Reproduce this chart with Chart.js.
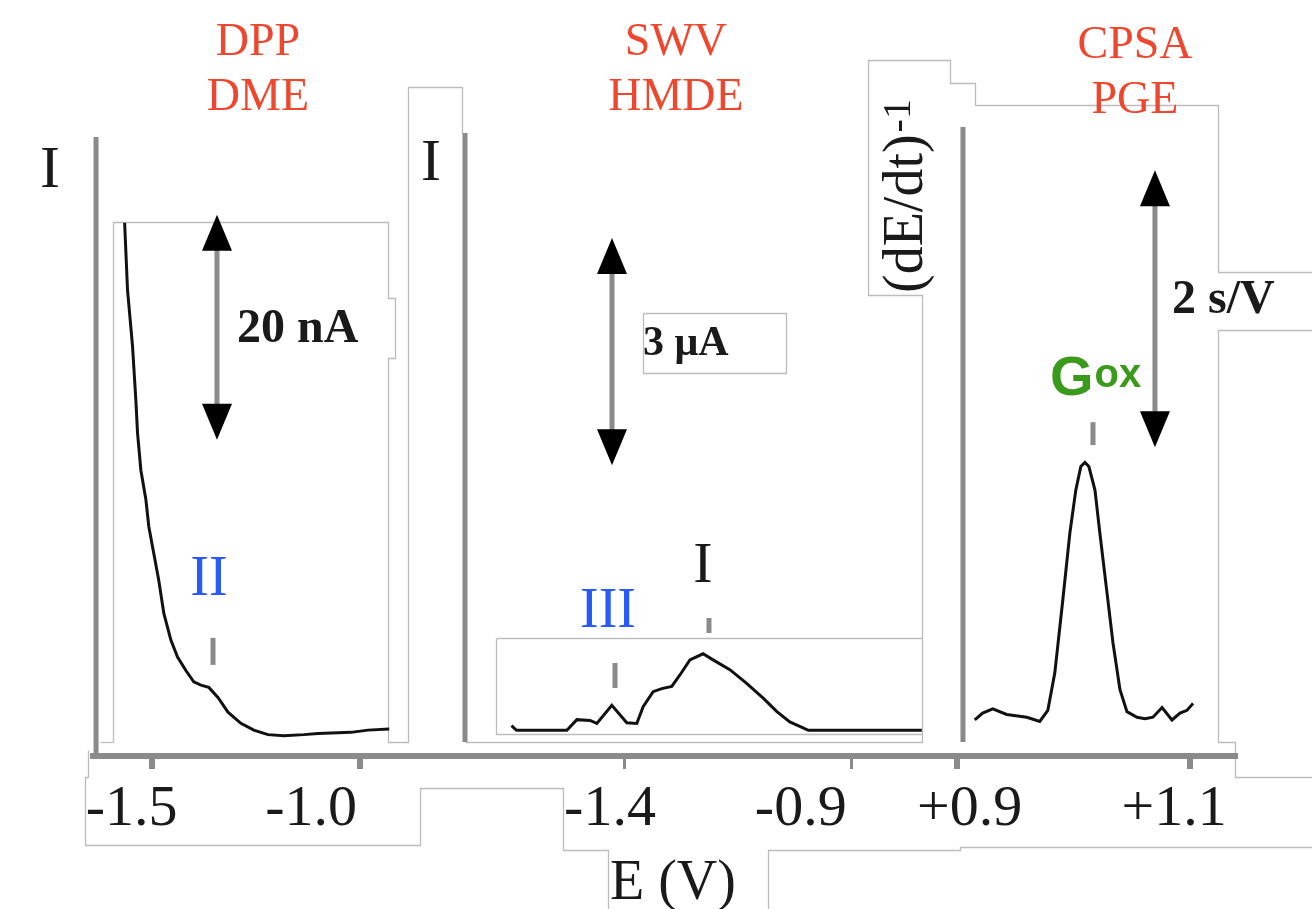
<!DOCTYPE html>
<html>
<head>
<meta charset="utf-8">
<title>DPP / SWV / CPSA</title>
<script src="https://cdn.jsdelivr.net/npm/chart.js@4.4.1/dist/chart.umd.min.js"></script>
<style>
  body { margin: 0; background: #fff; }
  #wrap { position: relative; width: 1312px; height: 909px; overflow: hidden; background: #fff; }
  #wrap canvas { position: absolute; top: 0; }
</style>
</head>
<body>
<div id="wrap">
  <canvas id="dpp" width="463" height="909" style="left:0px"></canvas>
  <canvas id="swv" width="552" height="909" style="left:400px"></canvas>
  <canvas id="cpsa" width="452" height="909" style="left:860px"></canvas>
</div>
<script>
// --- data ---
// DPP at the dropping mercury electrode (E in V, I in nA)
const dppE = [-1.565, -1.558, -1.546, -1.538, -1.534, -1.526, -1.514, -1.507, -1.495, -1.483, -1.471, -1.454, -1.438, -1.418,
  -1.399, -1.382, -1.363, -1.341, -1.317, -1.286, -1.255, -1.221, -1.183, -1.135, -1.101, -1.022, -0.981, -0.930];
const dppI = [47.4, 41.4, 36.4, 31.6, 28.7, 25.4, 22.8, 20.4, 18.0, 15.6, 12.7, 10.3, 8.8, 7.6,
  6.6, 6.3, 6.1, 5.2, 3.9, 2.9, 2.3, 1.9, 1.8, 1.9, 2.0, 2.1, 2.3, 2.4];
// SWV at the hanging mercury drop electrode (E in V, I in uA)
const swvE = [-1.650, -1.639, -1.528, -1.506, -1.477, -1.462, -1.429, -1.396, -1.374, -1.360, -1.338, -1.319, -1.297,
  -1.279, -1.257, -1.228, -1.206, -1.169, -1.132, -1.095, -1.066, -1.037, -1.015, -0.996, -0.746];
const swvI = [0.40, 0.34, 0.34, 0.48, 0.47, 0.43, 0.67, 0.44, 0.43, 0.65, 0.85, 0.89, 0.92,
  1.07, 1.27, 1.35, 1.27, 1.14, 0.96, 0.76, 0.59, 0.45, 0.39, 0.34, 0.34];
// CPSA at the pyrolytic graphite electrode (E in V, (dE/dt)^-1 in s/V)
const cpsaE = [0.9155, 0.9223, 0.9309, 0.9429, 0.9601, 0.9712, 0.9781, 0.9841, 0.9910, 0.9970, 1.0021, 1.0064, 1.0099, 1.0133,
  1.0185, 1.0227, 1.0288, 1.0339, 1.0399, 1.0459, 1.0545, 1.0614, 1.0682, 1.0760, 1.0845, 1.0914, 1.0974, 1.1026];
const cpsaR = [0.26, 0.31, 0.34, 0.30, 0.28, 0.25, 0.33, 0.60, 1.13, 1.61, 1.92, 2.09, 2.12, 2.09,
  1.92, 1.61, 1.18, 0.82, 0.48, 0.32, 0.28, 0.27, 0.28, 0.35, 0.26, 0.31, 0.33, 0.38];

// tick values and their labels
const dppTicks = [-1.5, -1.0];
const dppLabels = ['-1.5', '-1.0'];
const swvTicks = [-1.4, -0.9];
const swvLabels = ['-1.4', '-0.9'];
const cpsaTicks = [0.9, 1.1];
const cpsaLabels = ['+0.9', '+1.1'];

// scale bars (start, end) in each panel's own unit
const dppBar = [28.1, 48.1];   // 20 nA
const swvBar = [3.84, 6.84];   // 3 uA
const cpsaBar = [2.23, 4.23];  // 2 s/V

const dppTitle = ['DPP', 'DME'];
const swvTitle = ['SWV', 'HMDE'];
const cpsaTitle = ['CPSA', 'PGE'];

// --- drawing helpers ---
const RED = '#ee472d', BLUE = '#2a5af5', GREEN = '#3b9a1c', INK = '#1a1a1a', GRAY = '#8a8a8a', FRAME = '#bcbcbc';
const SERIF = '"Liberation Serif", "Times New Roman", serif';
const SANS = '"Liberation Sans", Arial, sans-serif';

// faint outlines of the pasted text boxes in the original figure (page pixels)
const frameLines = [
  [[113, 742], [113, 222], [388, 222], [388, 298], [395, 298], [395, 358], [388, 358], [388, 742], [408, 742], [408, 87], [462, 87], [462, 133]],
  [[100, 742], [113, 742]],
  [[88, 750], [88, 777], [85, 777], [85, 845], [420, 845], [420, 788], [563, 788], [563, 850], [608, 850], [608, 909]],
  [[768, 909], [768, 850], [960, 850], [960, 847], [1312, 847]],
  [[496, 638], [922, 638], [922, 734], [496, 734], [496, 638]],
  [[465, 742], [922, 742], [922, 734]],
  [[922, 638], [922, 295], [868, 295], [868, 60], [950, 60], [950, 83], [975, 83], [975, 105], [1218, 105], [1218, 272], [1312, 272]],
  [[1312, 330], [1218, 330], [1218, 742], [1235, 742], [1235, 777], [1312, 777]],
  [[643, 313], [786, 313], [786, 373], [643, 373], [643, 313]]
];

function txt(ctx, s, x, y, font, color, align) {
  ctx.font = font;
  ctx.fillStyle = color;
  ctx.textAlign = align || 'center';
  ctx.textBaseline = 'alphabetic';
  ctx.fillText(s, x, y);
}

function vline(ctx, x, y1, y2, w, color) {
  ctx.strokeStyle = color;
  ctx.lineWidth = w;
  ctx.lineCap = 'butt';
  ctx.beginPath();
  ctx.moveTo(x, y1);
  ctx.lineTo(x, y2);
  ctx.stroke();
}

// double headed scale-bar arrow, yLow / yHigh are the tip pixels
function arrow(ctx, x, yLow, yHigh) {
  const h = 36, hw = 15;
  vline(ctx, x, yLow - h + 2, yHigh + h - 2, 5, GRAY);
  ctx.fillStyle = '#000';
  ctx.beginPath();
  ctx.moveTo(x, yHigh);
  ctx.lineTo(x - hw, yHigh + h);
  ctx.lineTo(x + hw, yHigh + h);
  ctx.closePath();
  ctx.fill();
  ctx.beginPath();
  ctx.moveTo(x, yLow);
  ctx.lineTo(x - hw, yLow - h);
  ctx.lineTo(x + hw, yLow - h);
  ctx.closePath();
  ctx.fill();
}

// each canvas draws the frame lines that fall in its own strip of the page
function framePlugin(left, from, to) {
  return {
    id: 'frames',
    beforeDraw(chart) {
      const ctx = chart.ctx;
      ctx.save();
      ctx.beginPath();
      ctx.rect(from - left, 0, to - from, chart.height);
      ctx.clip();
      ctx.strokeStyle = FRAME;
      ctx.lineWidth = 1.3;
      frameLines.forEach(pts => {
        ctx.beginPath();
        pts.forEach((p, i) => i ? ctx.lineTo(p[0] - left + 0.5, p[1] + 0.5) : ctx.moveTo(p[0] - left + 0.5, p[1] + 0.5));
        ctx.stroke();
      });
      ctx.restore();
    }
  };
}

// the original labels sit a little left of their tick on the right-hand tick,
// so the second label gets a few trailing spaces
function xAxis(min, max, ticks, labels, offset, tail, tickW) {
  return {
    type: 'linear',
    min: min,
    max: max,
    afterBuildTicks: s => { s.ticks = ticks.map(v => ({ value: v })); },
    afterFit: s => { s.height = 153; },
    border: { display: true, color: GRAY, width: 6 },
    grid: {
      drawOnChartArea: false, drawTicks: true, tickLength: 13,
      tickWidth: tickW, tickColor: GRAY, color: GRAY, lineWidth: tickW
    },
    ticks: {
      callback: (v, i) => labels[i] + (i === labels.length - 1 ? ' '.repeat(tail) : ''),
      font: { family: SERIF, size: 58 },
      color: INK, padding: 6, labelOffset: offset,
      maxRotation: 0, minRotation: 0, autoSkip: false
    }
  };
}

function makeChart(id, E, Y, x, yMax, pad, frames, decor) {
  return new Chart(document.getElementById(id), {
    type: 'line',
    data: {
      datasets: [{
        data: E.map((e, i) => ({ x: e, y: Y[i] })),
        borderColor: '#111', borderWidth: 3,
        pointRadius: 0, tension: 0, fill: false
      }]
    },
    options: {
      responsive: false,
      animation: false,
      devicePixelRatio: 1,
      layout: { padding: pad },
      plugins: { legend: { display: false }, tooltip: { enabled: false } },
      scales: { x: x, y: { display: false, min: 0, max: yMax } }
    },
    plugins: [frames, { id: 'decor', afterDraw: decor }]
  });
}

function mapper(chart) {
  return [v => chart.scales.x.getPixelForValue(v), v => chart.scales.y.getPixelForValue(v)];
}

// --- panel decorations (labels, axis lines, scale bars, peak markers) ---
function dppDecor(chart) {
  const ctx = chart.ctx;
  const [px, py] = mapper(chart);
  ctx.save();
  txt(ctx, dppTitle[0], px(-1.245), 55, '46px ' + SERIF, RED);
  txt(ctx, dppTitle[1], px(-1.245), 110, '46px ' + SERIF, RED);
  txt(ctx, 'I', px(-1.744), 187, '60px ' + SERIF, INK);
  vline(ctx, px(-1.6336), 137, 753, 5, GRAY);
  arrow(ctx, px(-1.3433), py(dppBar[0]), py(dppBar[1]));
  txt(ctx, '20 nA', px(-1.2953), 342, 'bold 48px ' + SERIF, INK, 'left');
  txt(ctx, 'II', px(-1.3625), 595, '56px ' + SERIF, BLUE);
  vline(ctx, px(-1.3529), py(10.5), py(8.1), 5, GRAY);
  ctx.restore();
}

function swvDecor(chart) {
  const ctx = chart.ctx;
  const [px, py] = mapper(chart);
  ctx.save();
  txt(ctx, swvTitle[0], px(-1.2877), 55, '46px ' + SERIF, RED);
  txt(ctx, swvTitle[1], px(-1.2877), 110, '46px ' + SERIF, RED);
  txt(ctx, 'I', px(-1.8273), 180, '60px ' + SERIF, INK);
  vline(ctx, px(-1.7524), 133, 742, 5, GRAY);
  arrow(ctx, px(-1.4286), py(swvBar[0]), py(swvBar[1]));
  txt(ctx, '3 \u03bcA', px(-1.3604), 355, 'bold 42px ' + SERIF, INK, 'left');
  txt(ctx, 'III', px(-1.4374), 627, '56px ' + SERIF, BLUE);
  vline(ctx, px(-1.422), py(1.229), py(0.898), 5, GRAY);
  txt(ctx, 'I', px(-1.2282), 582, '58px ' + SERIF, INK);
  vline(ctx, px(-1.215), py(1.823), py(1.625), 5, GRAY);
  txt(ctx, 'E (V)', px(-1.2943), 899, '56px ' + SERIF, INK);
  ctx.restore();
}

function cpsaDecor(chart) {
  const ctx = chart.ctx;
  const [px, py] = mapper(chart);
  ctx.save();
  txt(ctx, cpsaTitle[0], px(1.0528), 58, '46px ' + SERIF, RED);
  txt(ctx, cpsaTitle[1], px(1.0528), 113, '46px ' + SERIF, RED);
  // rotated y label (dE/dt)^-1
  ctx.save();
  ctx.translate(px(0.8703), 293);
  ctx.rotate(-Math.PI / 2);
  txt(ctx, '(dE/dt)', 0, 0, '56px ' + SERIF, INK, 'left');
  const w = ctx.measureText('(dE/dt)').width;
  txt(ctx, '-1', w + 2, -12, '40px ' + SERIF, INK, 'left');
  ctx.restore();
  vline(ctx, px(0.9054), 127, 742, 5, GRAY);
  arrow(ctx, px(1.0699), py(cpsaBar[0]), py(cpsaBar[1]));
  txt(ctx, '2 s/V', px(1.0845), 313, 'bold 48px ' + SERIF, INK, 'left');
  const gx = px(0.980);
  txt(ctx, 'G', gx, 395, 'bold 56px ' + SANS, GREEN, 'left');
  const gw = ctx.measureText('G').width;
  txt(ctx, 'ox', gx + gw + 1, 387, 'bold 40px ' + SANS, GREEN, 'left');
  vline(ctx, px(1.0168), py(2.41), py(2.245), 5, GRAY);
  ctx.restore();
}

Chart.defaults.font.family = SERIF;

makeChart('dpp', dppE, dppI,
  xAxis(-1.6409, -0.7529, dppTicks, dppLabels, -20, 4, 6),
  56.53, { left: 93, right: 0, top: 120, bottom: 0 },
  framePlugin(0, 0, 430), dppDecor);

makeChart('swv', swvE, swvI,
  xAxis(-1.7568, -0.6797, swvTicks, swvLabels, -15, 5, 3),
  8.40, { left: 63, right: 0, top: 120, bottom: 0 },
  framePlugin(400, 430, 905), swvDecor);

makeChart('cpsa', cpsaE, cpsaR,
  xAxis(0.8960, 1.1385, cpsaTicks, cpsaLabels, 13, 4, 6),
  4.592, { left: 92, right: 77, top: 120, bottom: 0 },
  framePlugin(860, 905, 1312), cpsaDecor);
</script>
</body>
</html>
